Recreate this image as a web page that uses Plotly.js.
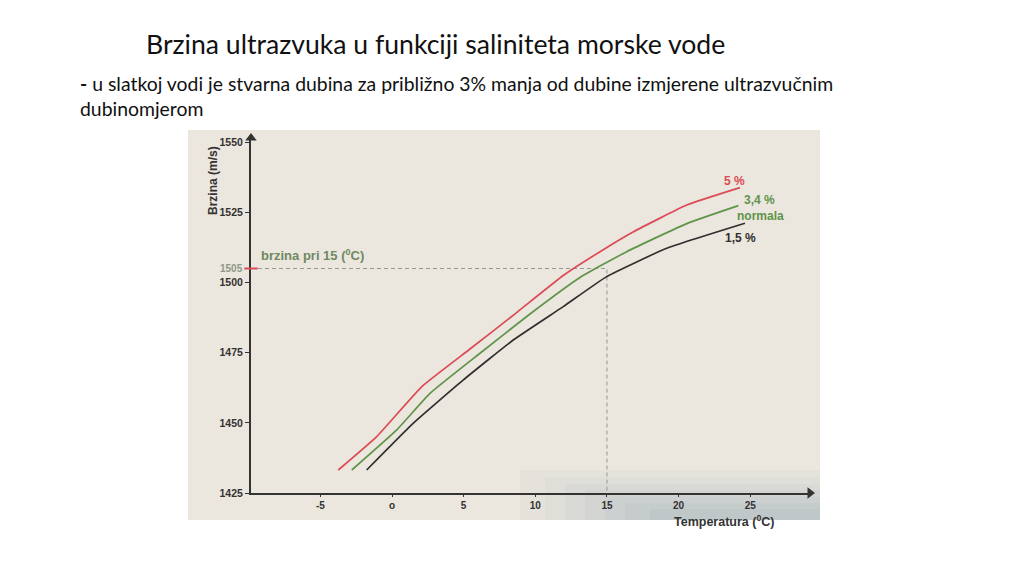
<!DOCTYPE html>
<html>
<head>
<meta charset="utf-8">
<script src="https://cdn.plot.ly/plotly-3.0.1.min.js"></script>
<style>
html,body{margin:0;padding:0;background:#fff;}
#chart{width:1024px;height:576px;}
</style>
</head>
<body>
<div id="chart"></div>
<script>
// ---- data ----
const tempRed   = [-3.75, -1.07, 2.1, 5.44, 8.70, 11.95, 14.52, 16.82, 20.57, 24.28];
const speedRed  = [1433.2, 1445.1, 1463.0, 1476.3, 1489.3, 1502.5, 1511.0, 1518.0, 1527.6, 1533.8];

const tempGreen  = [-2.81, 0.33, 2.65, 6.14, 9.63, 13.12, 16.38, 20.57, 24.17];
const speedGreen = [1433.2, 1447.5, 1460.5, 1474.8, 1488.8, 1501.8, 1511.0, 1521.0, 1527.4];

const tempBlack  = [-1.77, 1.49, 4.98, 8.46, 11.95, 14.98, 19.17, 24.63];
const speedBlack = [1433.2, 1449.9, 1465.3, 1479.5, 1491.4, 1502.1, 1512.2, 1521.1];

const xTickVals = [-5, 0, 5, 10, 15, 20, 25];
const xTickText = ['-5', 'o', '5', '10', '15', '20', '25'];
const yTickVals = [1425, 1450, 1475, 1500, 1525, 1550];
const yTickText = ['1425', '1450', '1475', '1500', '1525', '1550'];

const refTemp = 15;
const refSpeed = 1505;

const seriesLabels = ['5 %', '3,4 %', 'normala', '1,5 %'];

// ---- layout constants ----
const X_RANGE = [-9.84, 29.17];
const Y_RANGE = [1425, 1551.5];

const RED = '#dc4a54';
const GREEN = '#5f9449';
const BLACK = '#2f2f2f';
const AXIS = '#333333';
const LBL = 'Liberation Sans, Arial, sans-serif';
const SLIDE = 'Lato, sans-serif';

const lineStyle = (c) => ({color: c, width: 1.7, shape: 'spline', smoothing: 0.4});

const traces = [
  {x: [X_RANGE[0], refTemp, refTemp], y: [refSpeed, refSpeed, Y_RANGE[0]], mode: 'lines',
   line: {color: '#979797', width: 1, dash: '4px,3px'}, hoverinfo: 'skip'},
  {x: tempRed, y: speedRed, mode: 'lines', line: lineStyle(RED), name: seriesLabels[0]},
  {x: tempGreen, y: speedGreen, mode: 'lines', line: lineStyle(GREEN), name: seriesLabels[2]},
  {x: tempBlack, y: speedBlack, mode: 'lines', line: lineStyle(BLACK), name: seriesLabels[3]},
  {x: [X_RANGE[1]], y: [Y_RANGE[0]], mode: 'markers', cliponaxis: false,
   marker: {symbol: 'triangle-right', size: 10, color: AXIS}, hoverinfo: 'skip'},
  {x: [X_RANGE[0]], y: [Y_RANGE[1]], mode: 'markers', cliponaxis: false,
   marker: {symbol: 'triangle-up', size: 10, color: AXIS}, hoverinfo: 'skip'}
];

const ann = (o) => Object.assign({showarrow: false, xanchor: 'center', yanchor: 'middle',
  font: {family: LBL, size: 12, weight: 'bold'}}, o);

const tint = (x0, y0, a) => ({type: 'rect', xref: 'paper', yref: 'paper', x0: x0, x1: 1.0179, y0: -0.0761, y1: y0,
  fillcolor: 'rgba(140,162,180,' + a + ')', line: {width: 0}, layer: 'below'});

const layout = {
  width: 1024, height: 576,
  margin: {l: 251, r: 214, t: 138, b: 83},
  paper_bgcolor: '#ffffff',
  plot_bgcolor: 'rgba(0,0,0,0)',
  showlegend: false,
  title: {
    text: 'Brzina ultrazvuka u funkciji saliniteta morske vode',
    font: {family: SLIDE, size: 26.6, color: '#111'},
    xref: 'container', yref: 'container', x: 0.1426, xanchor: 'left', y: 0.922, yanchor: 'middle'
  },
  xaxis: {
    range: X_RANGE, showgrid: false, zeroline: false,
    showline: true, linecolor: AXIS, linewidth: 2,
    ticks: 'outside', ticklen: 2, tickcolor: AXIS, tickwidth: 1,
    tickvals: xTickVals, ticktext: xTickText,
    tickfont: {family: LBL, size: 10, weight: 'bold', color: AXIS}
  },
  yaxis: {
    range: Y_RANGE, showgrid: false, zeroline: false,
    showline: true, linecolor: AXIS, linewidth: 2,
    ticks: 'outside', ticklen: 4, tickcolor: AXIS, tickwidth: 1,
    tickvals: yTickVals, ticktext: yTickText,
    tickfont: {family: LBL, size: 10.5, weight: 'bold', color: AXIS}
  },
  shapes: [
    {type: 'rect', xref: 'paper', yref: 'paper', x0: -0.1127, x1: 1.0179, y0: -0.0761, y1: 1.0225,
     fillcolor: '#ebe6de', line: {width: 0}, layer: 'below'},
    tint(0.4812, 0.0648, 0.06),
    tint(0.5260, 0.0450, 0.06),
    tint(0.5617, 0.0250, 0.07),
    tint(0.5975, 0.0085, 0.08),
    tint(0.6330, -0.0100, 0.09),
    tint(0.6690, -0.0280, 0.10),
    tint(0.7138, -0.0450, 0.10),
    {type: 'line', xref: 'paper', yref: 'y', x0: -0.012, x1: 0.012, y0: refSpeed, y1: refSpeed,
     line: {color: RED, width: 2}}
  ],
  annotations: [
    ann({xref: 'paper', yref: 'paper', x: -0.3095, y: 1.1915, xanchor: 'left', yanchor: 'top', align: 'left',
         text: '<b>-</b> u slatkoj vodi je stvarna dubina za približno 3% manja od dubine izmjerene ultrazvučnim<br>dubinomjerom',
         font: {family: SLIDE, size: 19.4, color: '#111'}}),
    ann({x: 23.87, y: 1536.2, text: seriesLabels[0], font: {family: LBL, size: 12, weight: 'bold', color: RED}}),
    ann({x: 25.68, y: 1529.4, text: seriesLabels[1], font: {family: LBL, size: 12, weight: 'bold', color: GREEN}}),
    ann({x: 25.75, y: 1523.7, text: seriesLabels[2], font: {family: LBL, size: 12, weight: 'bold', color: GREEN}}),
    ann({x: 24.35, y: 1515.9, text: seriesLabels[3], font: {family: LBL, size: 12, weight: 'bold', color: BLACK}}),
    ann({x: -9.28, y: 1509.8, xanchor: 'left', text: 'brzina pri 15 (<sup>0</sup>C)',
         font: {family: LBL, size: 13, weight: 'bold', color: '#6f8a62'}}),
    ann({xref: 'paper', x: 0, xanchor: 'right', xshift: -6, y: refSpeed, text: String(refSpeed),
         font: {family: LBL, size: 10, weight: 'bold', color: '#8e9887'}}),
    ann({xref: 'paper', yref: 'paper', x: -0.068, y: 0.8817, textangle: -90, text: 'Brzina (m/s)',
         font: {family: LBL, size: 12, weight: 'bold', color: AXIS}}),
    ann({x: 23.17, yref: 'paper', y: -0.0789, text: 'Temperatura (<sup>0</sup>C)',
         font: {family: LBL, size: 12.5, weight: 'bold', color: AXIS}})
  ]
};

Plotly.newPlot('chart', traces, layout, {displayModeBar: false, staticPlot: true});
</script>
</body>
</html>
